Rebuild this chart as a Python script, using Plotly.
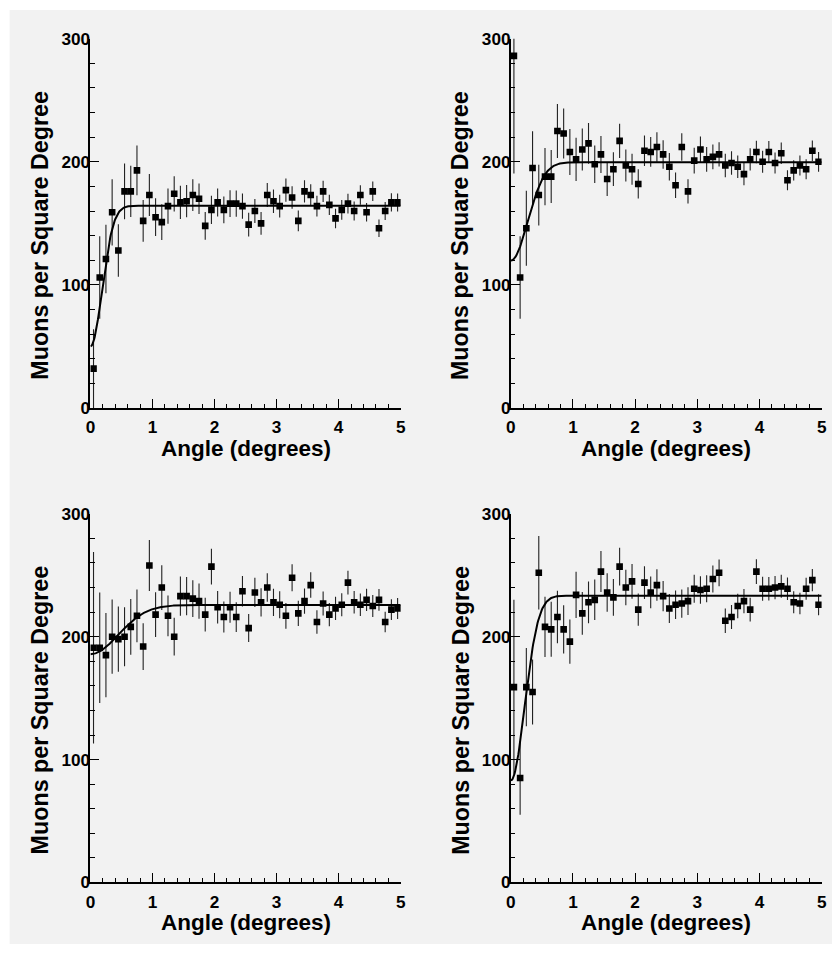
import numpy as np
import plotly.graph_objects as go

# ---------------- data ----------------
angle = [0.05, 0.15, 0.25, 0.35, 0.45, 0.55, 0.65, 0.75, 0.85, 0.95,
         1.05, 1.15, 1.25, 1.35, 1.45, 1.55, 1.65, 1.75, 1.85, 1.95,
         2.05, 2.15, 2.25, 2.35, 2.45, 2.55, 2.65, 2.75, 2.85, 2.95,
         3.05, 3.15, 3.25, 3.35, 3.45, 3.55, 3.65, 3.75, 3.85, 3.95,
         4.05, 4.15, 4.25, 4.35, 4.45, 4.55, 4.65, 4.75, 4.85, 4.95]

muons_a = [32, 106, 121, 159, 128, 176, 176, 193, 152, 173, 155, 151, 164, 174, 167, 168, 173, 170, 148, 161,
           167, 161, 166, 166, 164, 149, 160, 150, 173, 168, 164, 177, 171, 152, 176, 173, 164, 176, 165, 154,
           161, 166, 160, 173, 159, 176, 146, 160, 167, 167]
err_a = [31.9, 33.5, 27.8, 26.9, 21.3, 22.6, 20.8, 20.2, 16.9, 17.0, 15.3, 14.5, 14.4, 14.3, 13.5, 13.1, 12.9, 12.4, 11.3, 11.5,
         11.4, 10.9, 10.8, 10.6, 10.3, 9.6, 9.8, 9.3, 9.8, 9.5, 9.3, 9.4, 9.2, 8.5, 9.0, 8.8, 8.5, 8.6, 8.3, 7.9,
         8.0, 8.0, 7.7, 7.9, 7.5, 7.9, 7.1, 7.3, 7.4, 7.3]

muons_b = [286, 106, 146, 195, 173, 188, 188, 225, 223, 208, 202, 210, 215, 198, 206, 186, 194, 217, 197, 194,
           182, 209, 208, 212, 206, 196, 181, 212, 176, 201, 210, 202, 204, 206, 197, 199, 196, 190, 202, 208,
           200, 208, 199, 207, 185, 193, 197, 194, 209, 200]
err_b = [95.4, 33.5, 30.5, 29.8, 24.7, 23.3, 21.5, 21.9, 20.4, 18.7, 17.5, 17.1, 16.5, 15.3, 15.0, 13.8, 13.7, 14.0, 13.0, 12.6,
         11.9, 12.4, 12.1, 12.0, 11.6, 11.1, 10.4, 11.1, 9.9, 10.4, 10.5, 10.1, 10.0, 9.9, 9.5, 9.5, 9.2, 9.0, 9.1, 9.2,
         8.9, 8.9, 8.6, 8.7, 8.1, 8.2, 8.2, 8.1, 8.3, 8.0]

muons_c = [191, 191, 185, 200, 198, 200, 208, 217, 192, 258, 218, 240, 217, 200, 233, 233, 231, 229, 218, 257,
           224, 216, 224, 216, 237, 207, 236, 228, 240, 228, 226, 217, 248, 219, 229, 242, 212, 227, 218, 223,
           226, 244, 228, 226, 230, 225, 230, 212, 222, 223]
err_c = [78.0, 45.0, 34.3, 30.2, 26.5, 24.0, 22.6, 21.5, 19.0, 20.8, 18.2, 18.2, 16.6, 15.4, 16.0, 15.5, 14.9, 14.4, 13.7, 14.5,
         13.2, 12.6, 12.6, 12.1, 12.4, 11.4, 11.9, 11.5, 11.6, 11.1, 10.9, 10.5, 11.0, 10.2, 10.3, 10.4, 9.6, 9.8, 9.5, 9.5,
         9.4, 9.7, 9.2, 9.1, 9.1, 8.9, 8.9, 8.4, 8.5, 8.5]

muons_d = [159, 85, 159, 155, 252, 208, 206, 216, 206, 196, 234, 219, 228, 230, 253, 236, 232, 257, 240, 245,
           222, 244, 236, 242, 233, 223, 226, 227, 229, 239, 238, 239, 247, 252, 213, 216, 225, 229, 222, 253,
           239, 239, 240, 241, 239, 228, 227, 239, 246, 226]
err_d = [71.1, 30.0, 31.8, 26.5, 29.9, 24.5, 22.4, 21.4, 19.6, 18.1, 18.8, 17.4, 17.0, 16.5, 16.7, 15.6, 15.0, 15.3, 14.4, 14.1,
         13.1, 13.4, 12.9, 12.8, 12.3, 11.8, 11.6, 11.5, 11.3, 11.4, 11.2, 11.0, 11.0, 10.9, 9.9, 9.8, 9.9, 9.9, 9.6, 10.1,
         9.7, 9.6, 9.5, 9.4, 9.2, 8.9, 8.8, 9.0, 9.0, 8.5]

# fit parameters: plateau - depth * exp(-x^2 / (2 sigma^2))
fit_plateau = [164.4, 199.7, 225.8, 233.4]
fit_depth = [114.4, 80.0, 40.0, 150.4]
fit_sigma = [0.185, 0.27, 0.45, 0.22]

x_ticks = [0, 1, 2, 3, 4, 5]
y_ticks = [0, 100, 200, 300]
x_title = "Angle (degrees)"
y_title = "Muons per Square Degree"

# ---------------- figure ----------------
W, H = 837, 954
# the page shows the figure with a small margin and a slight downscale;
# positions below are target picture pixels, converted to figure pixels
OFF = 8
KX, KY = 837 / 853, 954 / 970
BG = "#f2f2f2"
FONT = "Liberation Sans, Arial, Helvetica, sans-serif"


def fx(v):
    f = v / KX - OFF
    return f + 1.0 - 0.006 * (f - 85.45)


def px(v):      # picture x pixel -> paper fraction
    return fx(v) / W


def py(v):      # picture y pixel -> paper fraction (from bottom)
    return 1 - (v / KY - OFF) / H


S = 1 / KX      # size compensation

series = [(muons_a, err_a), (muons_b, err_b), (muons_c, err_c), (muons_d, err_d)]
# picture-pixel boxes (left, right, top, bottom) of each plot frame
boxes = [(91.7, 401.7, 36.7, 407.7), (511.7, 822.3, 36.7, 407.7),
         (91.7, 401.7, 514.0, 884.3), (511.7, 822.3, 514.0, 884.3)]

fig = go.Figure()
xfit = np.linspace(0, 5, 501)

for k, ((vals, errs), box) in enumerate(zip(series, boxes)):
    sfx = "" if k == 0 else str(k + 1)
    xa, ya = "x" + sfx, "y" + sfx
    fig.add_trace(go.Scatter(
        x=angle, y=vals, mode="markers", xaxis=xa, yaxis=ya,
        marker=dict(symbol="square", size=6.5 * S, color="black"),
        error_y=dict(type="data", array=errs, visible=True, width=0, thickness=1.1, color="#222222"),
        hoverinfo="x+y"))
    yfit = fit_plateau[k] - fit_depth[k] * np.exp(-xfit ** 2 / (2 * fit_sigma[k] ** 2))
    fig.add_trace(go.Scatter(
        x=xfit, y=yfit, mode="lines", xaxis=xa, yaxis=ya,
        line=dict(color="black", width=2), hoverinfo="skip"))

    l, r, t, b = box
    common = dict(showgrid=False, zeroline=False, showline=True, linecolor="black", linewidth=1.6,
                  ticks="inside", ticklen=9.2, tickwidth=1, tickcolor="black",
                  tickfont=dict(family=FONT, size=17.2, color="black", weight="bold"))
    fig.layout["xaxis" + sfx] = dict(
        domain=[px(l), px(r)], anchor=ya, range=[0, 5], tickvals=x_ticks,
        minor=dict(ticks="inside", ticklen=4.6, dtick=0.2, tickcolor="black", tickwidth=1),
        ticklabelstandoff=3, **common)
    fig.layout["yaxis" + sfx] = dict(
        domain=[py(b), py(t)], anchor=xa, range=[0, 300], tickvals=y_ticks,
        minor=dict(ticks="inside", ticklen=4.6, dtick=20, tickcolor="black", tickwidth=1),
        ticklabelstandoff=-5, **common)

    # frame (gray thin box)
    fig.add_shape(type="rect", xref=xa + " domain", yref=ya + " domain", x0=0, x1=1, y0=0, y1=1,
                  line=dict(color="#6a6a6a", width=1), fillcolor="rgba(0,0,0,0)", layer="below")

    # axis titles
    fig.add_annotation(text=x_title, xref="paper", yref="paper",
                       x=px((l + r) / 2), y=py(b + 40.5), xanchor="center", yanchor="middle",
                       showarrow=False, font=dict(family=FONT, size=22.5, color="black", weight="bold"))
    fig.add_annotation(text=y_title, xref="paper", yref="paper", textangle=-90,
                       x=px(l - 50), y=py((t + b) / 2 + 12), xanchor="center", yanchor="middle",
                       showarrow=False, font=dict(family=FONT, size=23.3, color="black", weight="bold"))

# gray canvas (white strip at the left)
fig.add_shape(type="rect", xref="paper", yref="paper", x0=px(11), x1=1, y0=0, y1=1,
              line=dict(width=0), fillcolor=BG, layer="below")

fig.update_layout(width=W, height=H, margin=dict(l=0, r=0, t=0, b=0),
                  paper_bgcolor="white", plot_bgcolor=BG, showlegend=False)

fig.write_html("out.html")
